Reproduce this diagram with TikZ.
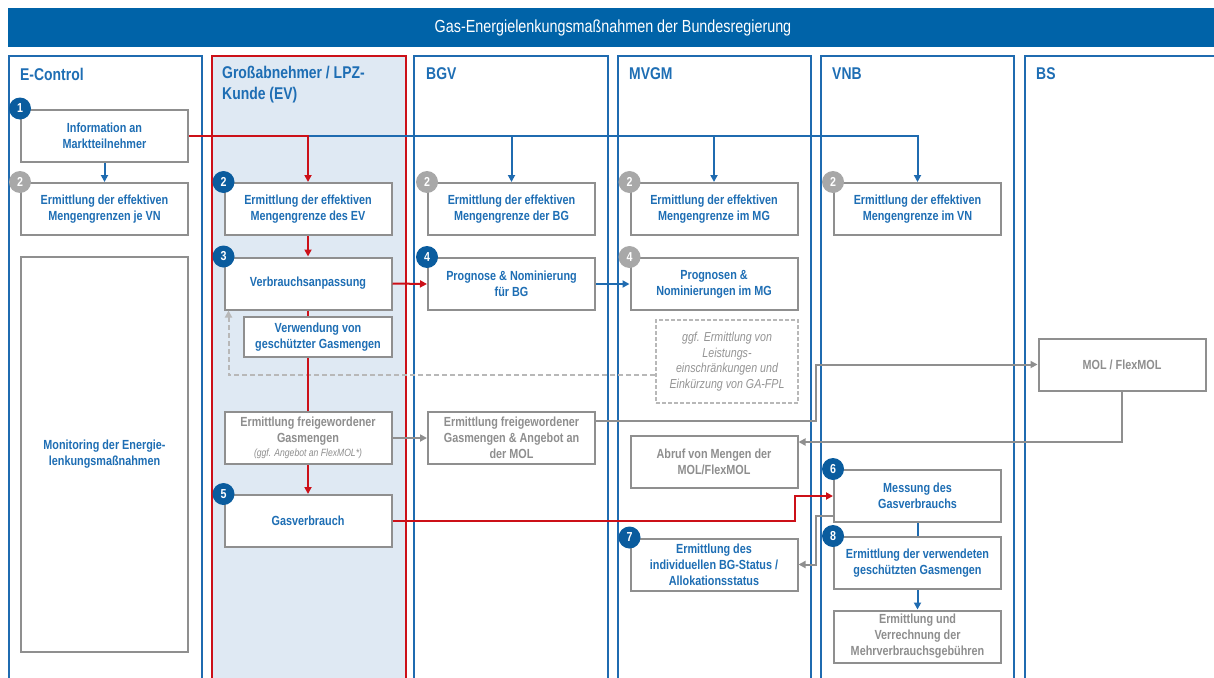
\documentclass[tikz,border=0pt]{standalone}
\usepackage{fontspec}
\setmainfont{Liberation Sans}[FakeStretch=0.82]
\usetikzlibrary{arrows.meta,calc}
\definecolor{hdrblue}{HTML}{0063A8}
\definecolor{laneblue}{HTML}{1F6BB0}
\definecolor{txtblue}{HTML}{1E6EB4}
\definecolor{badgeblue}{HTML}{0A5C9E}
\definecolor{badgegray}{HTML}{A8A8A8}
\definecolor{boxgray}{HTML}{8F8F8F}
\definecolor{txtgray}{HTML}{8E8E8E}
\definecolor{dashgray}{HTML}{B8B8B8}
\definecolor{flowred}{HTML}{CC1018}
\definecolor{evfill}{HTML}{DFE9F3}
\begin{document}
\begin{tikzpicture}[x=1pt,y=-1pt,
  box/.style={draw=boxgray,line width=2pt,fill=white,minimum width=167pt,minimum height=52pt,inner sep=1pt,align=center,font=\bfseries\fontsize{13.2}{16}\selectfont,text=txtblue},
  gbox/.style={box,text=txtgray},
  badge/.style={circle,fill=badgeblue,text=white,minimum size=22pt,inner sep=0pt,font=\bfseries\fontsize{13}{13}\selectfont},
  gbadge/.style={badge,fill=badgegray},
  lane/.style={draw=laneblue,line width=2.2pt},
  lanetitle/.style={anchor=west,text=txtblue,font=\bfseries\fontsize{17}{20.5}\selectfont,align=left,inner sep=0pt},
  tip/.style={-{Triangle[length=7pt,width=7pt]}},
  bline/.style={draw=laneblue,line width=2pt},
  rline/.style={draw=flowred,line width=2pt},
  gline/.style={draw=boxgray,line width=2pt},
  dline/.style={draw=dashgray,line width=2pt,dashed,dash pattern=on 5pt off 3pt}
]
\clip (0,0) rectangle (1214,677);
\fill[white] (0,0) rectangle (1214,677);
% header
\fill[hdrblue] (8,8) rectangle (1220,47);
\node[text=white,font=\fontsize{17.5}{20}\selectfont] (title) at (613,28) {Gas-Energielenkungsmaßnahmen der Bundesregierung};
% lanes
\draw[lane] (9,56) rectangle (202,700);
\draw[draw=flowred,line width=2.2pt,fill=evfill] (212,56) rectangle (406,700);
\draw[lane] (414,56) rectangle (608,700);
\draw[lane] (618,56) rectangle (811,700);
\draw[lane] (821,56) rectangle (1014,700);
\draw[lane] (1025,56) rectangle (1240,700);
\node[lanetitle] (t1) at (20,74) {E-Control};
\node[lanetitle] (t2) at (222,84.5) {Großabnehmer / LPZ-\\Kunde (EV)};
\node[lanetitle] (t3) at (426,74) {BGV};
\node[lanetitle] (t4) at (629,74) {MVGM};
\node[lanetitle] (t5) at (832,74) {VNB};
\node[lanetitle] (t6) at (1036,74) {BS};
% boxes
\node[box] (info) at (104.5,135.5) {Information an\\Marktteilnehmer};
\node[box] (ec2) at (104.5,209) {Ermittlung der effektiven\\Mengengrenzen je VN};
\node[box] (ev2) at (308,209) {Ermittlung der effektiven\\Mengengrenze des EV};
\node[box] (bg2) at (511.5,209) {Ermittlung der effektiven\\Mengengrenze der BG};
\node[box] (mg2) at (714,209) {Ermittlung der effektiven\\Mengengrenze im MG};
\node[box] (vn2) at (917.5,209) {Ermittlung der effektiven\\Mengengrenze im VN};
\node[box,minimum height=395pt] (mon) at (104.5,454.5) {Monitoring der Energie-\\lenkungsmaßnahmen};
\node[box] (ev3) at (308,283.5) {Verbrauchsanpassung};
\node[box] (bg4) at (511.5,284) {Prognose \& Nominierung\\für BG};
\node[box] (mg4) at (714,284) {Prognosen \&\\Nominierungen im MG};
\node[box,minimum width=148pt,minimum height=40pt] (verw) at (318,337) {Verwendung von\\geschützter Gasmengen};
\node[gbox,draw=dashgray,dashed,dash pattern=on 4pt off 2pt,minimum width=142pt,minimum height=83pt,font=\itshape\fontsize{13}{15.5}\selectfont,text=txtgray!95] (dash) at (727,361.5) {ggf. Ermittlung von\\Leistungs-\\einschränkungen und\\Einkürzung von GA-FPL};
\node[gbox] (evfrei) at (308,438) {Ermittlung freigewordener\\Gasmengen\\[-2pt]{\mdseries\itshape\fontsize{10.5}{12}\selectfont (ggf. Angebot an FlexMOL*)}};
\node[gbox] (bgfrei) at (511.5,438) {Ermittlung freigewordener\\Gasmengen \& Angebot an\\der MOL};
\node[gbox] (mol) at (1122,364.5) {MOL / FlexMOL};
\node[gbox] (abruf) at (714,462) {Abruf von Mengen der\\MOL/FlexMOL};
\node[box] (gasv) at (308,521) {Gasverbrauch};
\node[box] (mess) at (917.5,496) {Messung des\\Gasverbrauchs};
\node[box] (st7) at (714,564.5) {Ermittlung des\\individuellen BG-Status /\\Allokationsstatus};
\node[box] (vn8) at (917.5,563) {Ermittlung der verwendeten\\geschützten Gasmengen};
\node[gbox] (mehr) at (917.5,636.5) {Ermittlung und\\Verrechnung der\\Mehrverbrauchsgebühren};
% helper coordinates
\coordinate (k1) at (816,0);
\coordinate (k2) at (795,0);
\coordinate (j) at (ev2.north |- info.east);
% connectors
\draw[dline,tip] ([yshift=-13.5pt]dash.west) -| ([xshift=5pt]ev3.south west);
\draw[bline,tip] (info.south) -- (ec2.north);
\draw[bline,tip] (j) -| (bg2.north);
\draw[bline,tip] (j) -| (mg2.north);
\draw[bline,tip] (j) -| (vn2.north);
\draw[rline,tip] (info.east) -| (ev2.north);
\draw[rline,tip] (ev2.south) -- (ev3.north);
\draw[rline,tip] (ev3.east) -- (bg4.west);
\draw[bline,tip] (bg4.east) -- (mg4.west);
\draw[rline] (ev3.south) -- (ev3.south |- verw.north);
\draw[rline] (ev3.south |- verw.south) -- (evfrei.north);
\draw[rline,tip] (evfrei.south) -- (gasv.north);
\draw[gline,tip] (evfrei.east) -- (bgfrei.west);
\draw[gline,tip] ([yshift=17pt]bgfrei.east) -| (k1 |- mol.west) -- (mol.west);
\draw[gline,tip] (mol.south) |- ([yshift=20pt]abruf.east);
\draw[rline,tip] (gasv.east) -| (k2 |- mess.west) -- (mess.west);
\draw[gline,tip] ([yshift=-20pt]mess.west) -| (k1 |- st7.east) -- (st7.east);
\draw[bline] (mess.south) -- (vn8.north);
\draw[bline,tip] (vn8.south) -- (mehr.north);
% badges
\node[badge] (b1) at (info.north west) {1};
\node[gbadge] (b2a) at (ec2.north west) {2};
\node[badge] (b2b) at (ev2.north west) {2};
\node[gbadge] (b2c) at (bg2.north west) {2};
\node[gbadge] (b2d) at (mg2.north west) {2};
\node[gbadge] (b2e) at (vn2.north west) {2};
\node[badge] (b3) at (ev3.north west) {3};
\node[badge] (b4a) at (bg4.north west) {4};
\node[gbadge] (b4b) at (mg4.north west) {4};
\node[badge] (b5) at (gasv.north west) {5};
\node[badge] (b6) at (mess.north west) {6};
\node[badge] (b7) at (st7.north west) {7};
\node[badge] (b8) at (vn8.north west) {8};
\end{tikzpicture}
\end{document}
